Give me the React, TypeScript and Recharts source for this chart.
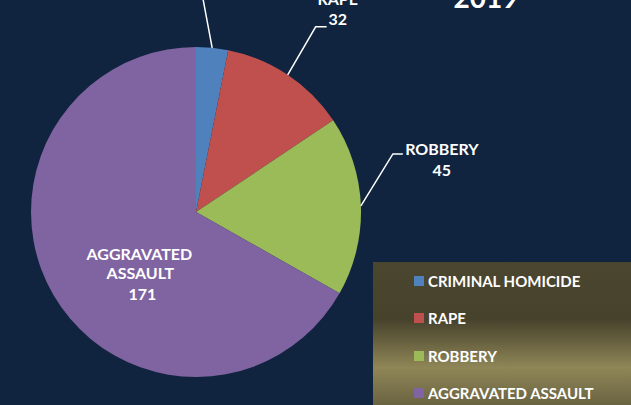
import { Customized, Legend, Pie, PieChart } from "recharts"

const categories = ["CRIMINAL HOMICIDE", "RAPE", "ROBBERY", "AGGRAVATED ASSAULT"]
const counts = [8, 32, 45, 171]
const colors = ["#4F81BD", "#C0504D", "#9BBB59", "#8064A2"]
const title = "2019"

const data = categories.map((name, i) => ({ name, value: counts[i], fill: colors[i] }))

const FONT = "Lato, 'Open Sans', sans-serif"
const RAD = Math.PI / 180

// leader line bends and text placement per slice (Excel style manual labels)
const labelLayout: Record<string, any> = {
  "CRIMINAL HOMICIDE": { dx: -12, dy: -64, run: -10, tx: -60, lines: [-40, -20] },
  RAPE: { dx: 28, dy: -48, run: 11, tx: 22, lines: [-28, -8] },
  ROBBERY: { dx: 32, dy: -52, run: 10, tx: 49, lines: [-5, 16] },
}

const renderLabel = (props: any) => {
  const { cx, cy, midAngle, outerRadius, name, value } = props
  const cos = Math.cos(-midAngle * RAD)
  const sin = Math.sin(-midAngle * RAD)
  const layout = labelLayout[name]
  const textStyle = { fill: "#ffffff", fontFamily: FONT, fontWeight: 700, fontSize: 16 }
  if (!layout) {
    // inside label for the big slice
    const r = outerRadius * 0.39
    const x = cx + r * cos
    const y = cy + r * sin + 28
    const words = name.split(" ")
    return (
      <g>
        <text x={x - 1} y={y - 19} textAnchor="middle" dominantBaseline="central" style={textStyle}>{words[0]}</text>
        <text x={x} y={y} textAnchor="middle" dominantBaseline="central" style={textStyle}>{words[1]}</text>
        <text x={x + 2} y={y + 21} textAnchor="middle" dominantBaseline="central" style={textStyle}>{value}</text>
      </g>
    )
  }
  const sx = cx + outerRadius * cos
  const sy = cy + outerRadius * sin
  const ex = sx + layout.dx
  const ey = sy + layout.dy
  return (
    <g>
      <polyline points={`${sx},${sy} ${ex},${ey} ${ex + layout.run},${ey}`} fill="none" stroke="#ffffff" strokeWidth={1.5} />
      <text x={ex + layout.tx} y={ey + layout.lines[0]} textAnchor="middle" dominantBaseline="central" style={textStyle}>{name}</text>
      <text x={ex + layout.tx} y={ey + layout.lines[1]} textAnchor="middle" dominantBaseline="central" style={textStyle}>{value}</text>
    </g>
  )
}

const renderLegend = () => (
  <div
    style={{
      width: 258,
      height: 143,
      background:
        "linear-gradient(to bottom, #4b4630 0%, #47422c 40%, #8f8657 74%, #6a6341 100%)",
      boxSizing: "border-box",
      paddingLeft: 41,
      paddingTop: 0,
    }}
  >
    {categories.map((name, i) => (
      <div key={name} style={{ display: "flex", alignItems: "center", height: 37.5 }}>
        <span style={{ width: 10, height: 10, background: colors[i], marginRight: 4 }} />
        <span style={{ color: "#ffffff", fontFamily: FONT, fontWeight: 700, fontSize: 15 }}>{name}</span>
      </div>
    ))}
  </div>
)

export default function App() {
  return (
    <div style={{ position: "fixed", left: 0, top: 0, width: 631, height: 405, background: "#10243F", overflow: "hidden" }}>
      <PieChart width={631} height={405} margin={{ top: 0, right: 0, bottom: 0, left: 0 }}>
        <Customized
          component={() => (
            <text x={486} y={8} textAnchor="middle" style={{ fill: "#ffffff", fontFamily: FONT, fontWeight: 700, fontSize: 28 }}>
              {title}
            </text>
          )}
        />
        <Pie
          data={data}
          dataKey="value"
          nameKey="name"
          cx={196}
          cy={212}
          outerRadius={165}
          startAngle={90}
          endAngle={-270}
          stroke="none"
          label={renderLabel}
          labelLine={false}
          isAnimationActive={false}
        />
        <Legend
          content={renderLegend}
          wrapperStyle={{ position: "absolute", left: 373, top: 262, width: 258, height: 143 }}
        />
      </PieChart>
    </div>
  )
}
